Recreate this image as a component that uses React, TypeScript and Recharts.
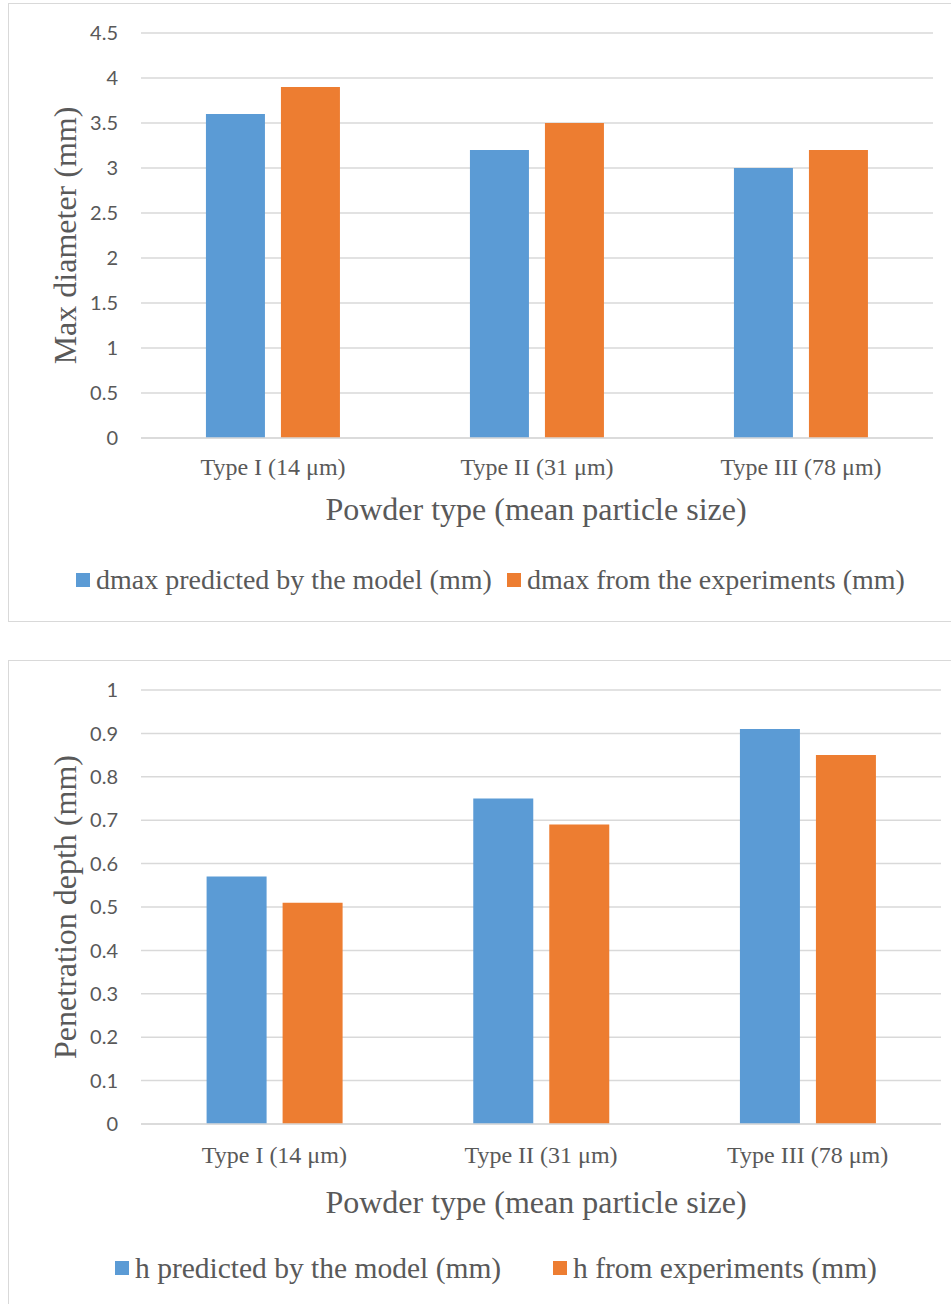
import React from "react";
import { BarChart, Bar, XAxis, YAxis, CartesianGrid, Label, Text } from "recharts";

const categories = ["Type I (14 μm)", "Type II (31 μm)", "Type III (78 μm)"];

const dmaxModel = [3.6, 3.2, 3.0];
const dmaxExperiment = [3.9, 3.5, 3.2];
const dmaxTicks = [0, 0.5, 1, 1.5, 2, 2.5, 3, 3.5, 4, 4.5];

const hModel = [0.57, 0.75, 0.91];
const hExperiment = [0.51, 0.69, 0.85];
const hTicks = [0, 0.1, 0.2, 0.3, 0.4, 0.5, 0.6, 0.7, 0.8, 0.9, 1];

const BLUE = "#5B9BD5";
const ORANGE = "#ED7D31";
const GRID = "#D9D9D9";
const TEXT = "#595959";
const SERIF = "'Liberation Serif', 'Times New Roman', serif";
const SANS = "Lato, 'Open Sans', sans-serif";

const dmaxData = categories.map((name, i) => ({
  name,
  model: dmaxModel[i],
  exp: dmaxExperiment[i],
}));

const hData = categories.map((name, i) => ({
  name,
  model: hModel[i],
  exp: hExperiment[i],
}));

function YTitle({ viewBox, text }: any) {
  const cy = viewBox.y + viewBox.height / 2;
  return (
    <Text
      x={65}
      y={cy}
      angle={-90}
      textAnchor="middle"
      verticalAnchor="middle"
      fill={TEXT}
      style={{ fontFamily: SERIF, fontSize: 32 }}
    >
      {text}
    </Text>
  );
}

// axis title under the tick labels; gap = distance below the axis line
function XTitle({ viewBox, text, gap, shift }: any) {
  return (
    <Text
      x={viewBox.x + viewBox.width / 2 + shift}
      y={viewBox.y + gap}
      textAnchor="middle"
      verticalAnchor="start"
      fill={TEXT}
      style={{ fontFamily: SERIF, fontSize: 32 }}
    >
      {text}
    </Text>
  );
}

function LegendItem({ color, label, left, size }: { color: string; label: string; left: number; size: number }) {
  return (
    <div style={{ position: "absolute", left, top: 0, display: "flex", alignItems: "center", whiteSpace: "nowrap" }}>
      <span style={{ width: 14, height: 14, background: color, display: "inline-block", marginRight: 6 }} />
      <span style={{ fontFamily: SERIF, fontSize: size, color: TEXT, lineHeight: "30px" }}>{label}</span>
    </div>
  );
}

interface PanelProps {
  data: any[];
  top: number;
  height: number;
  plotTop: number;
  plotRight: number;
  xAxisHeight: number;
  domainMax: number;
  ticks: number[];
  yTitle: string;
  tickMargin: number;
  titleGap: number;
  titleShift: number;
}

function Panel({ data, top, height, plotTop, plotRight, xAxisHeight, domainMax, ticks, yTitle, tickMargin, titleGap, titleShift }: PanelProps) {
  const xTitle = "Powder type (mean particle size)";
  return (
    <div style={{ position: "absolute", left: 0, top, width: 951, height }}>
      <BarChart
        width={951}
        height={height}
        data={data}
        margin={{ top: plotTop, right: plotRight, left: 0, bottom: 0 }}
        barCategoryGap="24.6%"
        barGap={16}
      >
        <CartesianGrid vertical={false} stroke={GRID} strokeWidth={1.5} />
        <XAxis
          dataKey="name"
          height={xAxisHeight}
          tickLine={false}
          axisLine={{ stroke: GRID, strokeWidth: 1.5 }}
          tickMargin={tickMargin}
          tick={{ fill: TEXT, fontSize: 24, fontFamily: SERIF }}
          interval={0}
        >
          <Label
            value={xTitle}
            content={<XTitle text={xTitle} gap={titleGap} shift={titleShift} />}
          />
        </XAxis>
        <YAxis
          width={141}
          domain={[0, domainMax]}
          ticks={ticks}
          interval={0}
          tickLine={false}
          axisLine={false}
          tickMargin={17}
          tick={{ fill: TEXT, fontSize: 20, fontFamily: SANS }}
        >
          <Label value={yTitle} content={<YTitle text={yTitle} />} />
        </YAxis>
        <Bar dataKey="model" fill={BLUE} isAnimationActive={false} />
        <Bar dataKey="exp" fill={ORANGE} isAnimationActive={false} />
      </BarChart>
    </div>
  );
}

export default function App() {
  return (
    <div style={{ position: "absolute", left: 0, top: 0, width: 951, height: 1304, overflow: "hidden", background: "#fff" }}>
      <div style={{ position: "absolute", left: 8, top: 3, width: 980, height: 617, border: `1.5px solid ${GRID}` }} />
      <div style={{ position: "absolute", left: 8, top: 660, width: 980, height: 700, border: `1.5px solid ${GRID}` }} />

      <Panel
        data={dmaxData}
        top={0}
        height={621}
        plotTop={33}
        plotRight={18}
        xAxisHeight={183}
        domainMax={4.5}
        ticks={dmaxTicks}
        yTitle="Max diameter (mm)"
        tickMargin={14}
        titleGap={59}
        titleShift={-1}
      />
      <div style={{ position: "absolute", left: 0, top: 565, width: 951, height: 30 }}>
        <LegendItem color={BLUE} label="dmax predicted by the model (mm)" left={76} size={28} />
        <LegendItem color={ORANGE} label="dmax from the experiments (mm)" left={507} size={28} />
      </div>

      <Panel
        data={hData}
        top={640}
        height={664}
        plotTop={50}
        plotRight={10}
        xAxisHeight={180}
        domainMax={1}
        ticks={hTicks}
        yTitle="Penetration depth (mm)"
        tickMargin={16}
        titleGap={66}
        titleShift={-5}
      />
      <div style={{ position: "absolute", left: 0, top: 1253, width: 951, height: 30 }}>
        <LegendItem color={BLUE} label="h predicted by the model (mm)" left={115} size={29.5} />
        <LegendItem color={ORANGE} label="h from experiments (mm)" left={553} size={29.5} />
      </div>
    </div>
  );
}
